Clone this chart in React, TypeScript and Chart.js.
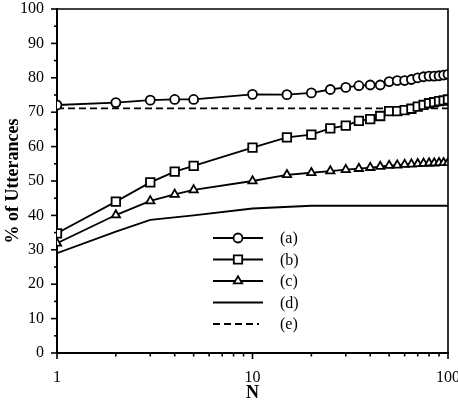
import { useEffect, useRef } from 'react';
import { Chart, registerables } from 'chart.js';

Chart.register(...registerables);

// N values sampled for the three marked series
const nValues = [1, 2, 3, 4, 5, 10, 15, 20, 25, 30, 35, 40, 45, 50, 55, 60, 65, 70, 75, 80, 85, 90, 95, 100];
const seriesA = [72.1, 72.8, 73.5, 73.7, 73.7, 75.2, 75.1, 75.6, 76.6, 77.2, 77.7, 77.9, 77.9, 78.9, 79.2, 79.2, 79.5, 80.0, 80.3, 80.5, 80.5, 80.6, 80.8, 81.0];
const seriesB = [34.8, 44.0, 49.6, 52.7, 54.4, 59.7, 62.7, 63.5, 65.3, 66.1, 67.5, 68.0, 68.9, 70.3, 70.3, 70.6, 71.0, 71.6, 72.1, 72.6, 72.9, 73.2, 73.4, 73.7];
const seriesC = [31.9, 40.1, 44.2, 46.1, 47.4, 50.0, 51.8, 52.4, 52.9, 53.3, 53.6, 53.9, 54.2, 54.5, 54.6, 54.8, 54.9, 55.0, 55.1, 55.2, 55.2, 55.3, 55.3, 55.3];
// Unmarked solid curve
const dN = [1, 2, 3, 5, 10, 20, 100];
const seriesD = [29.0, 35.3, 38.7, 40.0, 42.0, 42.8, 42.8];
// Dashed reference level
const eN = [1, 100];
const seriesE = [71.1, 71.1];

const legendLabels = ['(a)', '(b)', '(c)', '(d)', '(e)'];
const legendMarkers = ['circle', 'square', 'triangle', 'none', 'none'];
const xTickLabels = [1, 10, 100];
const yMajorStep = 10;
const yMinorStep = 5;

const SERIF = '"Liberation Serif", "Times New Roman", serif';
const LINE_W = 1.8;

function drawMarker(ctx: CanvasRenderingContext2D, kind: string, x: number, y: number) {
  ctx.save();
  ctx.fillStyle = '#fff';
  ctx.strokeStyle = '#000';
  ctx.lineWidth = LINE_W;
  ctx.beginPath();
  if (kind === 'circle') {
    ctx.arc(x, y, 4.5, 0, Math.PI * 2);
  } else if (kind === 'square') {
    ctx.rect(x - 4.2, y - 4.2, 8.4, 8.4);
  } else if (kind === 'triangle') {
    const r = 4.8;
    ctx.moveTo(x, y - r);
    ctx.lineTo(x + r * 0.866, y + r * 0.5);
    ctx.lineTo(x - r * 0.866, y + r * 0.5);
    ctx.closePath();
  } else {
    ctx.restore();
    return;
  }
  ctx.fill();
  ctx.stroke();
  ctx.restore();
}

// Frame, tick marks and the line-style key
const decorations = {
  id: 'decorations',
  afterDraw(chart: any) {
    const { ctx, chartArea } = chart;
    const xs = chart.scales.x;
    const ys = chart.scales.y;
    ctx.save();
    ctx.strokeStyle = '#000';

    // top and right frame
    ctx.lineWidth = 1.6;
    ctx.beginPath();
    ctx.moveTo(chartArea.left, chartArea.top);
    ctx.lineTo(chartArea.right, chartArea.top);
    ctx.lineTo(chartArea.right, chartArea.bottom);
    ctx.stroke();

    // y ticks (outward)
    ctx.lineWidth = 1.6;
    for (let v = 0; v <= 100; v += yMinorStep) {
      const py = ys.getPixelForValue(v);
      const len = v % yMajorStep === 0 ? 6 : 3;
      ctx.beginPath();
      ctx.moveTo(chartArea.left - len, py);
      ctx.lineTo(chartArea.left, py);
      ctx.stroke();
    }

    // x ticks (outward, log decades)
    for (let dec = 1; dec <= 100; dec *= 10) {
      for (let m = 1; m <= 9; m++) {
        const v = dec * m;
        if (v > 100) break;
        const px = xs.getPixelForValue(v);
        const len = m === 1 ? 6 : 3.5;
        ctx.beginPath();
        ctx.moveTo(px, chartArea.bottom);
        ctx.lineTo(px, chartArea.bottom + len);
        ctx.stroke();
      }
    }

    // key
    const x0 = 213;
    const x1 = 263;
    const y0 = 238;
    const dy = 21.5;
    ctx.font = `16px ${SERIF}`;
    ctx.fillStyle = '#000';
    ctx.textBaseline = 'middle';
    ctx.textAlign = 'left';
    legendLabels.forEach((label, i) => {
      const y = y0 + i * dy;
      ctx.save();
      ctx.lineWidth = LINE_W;
      if (i === 4) ctx.setLineDash([7, 4]);
      ctx.beginPath();
      ctx.moveTo(x0, y);
      ctx.lineTo(i === 4 ? x1 - 4 : x1, y);
      ctx.stroke();
      ctx.restore();
      drawMarker(ctx, legendMarkers[i], (x0 + x1) / 2, y);
      ctx.fillText(label, 280, y + 1);
    });
    ctx.restore();
  },
};

export default function App() {
  const canvasRef = useRef<HTMLCanvasElement | null>(null);

  useEffect(() => {
    document.body.style.margin = '0';
    const canvas = canvasRef.current;
    if (!canvas) return;

    const lineBase = {
      borderColor: '#000',
      borderWidth: LINE_W,
      pointBorderColor: '#000',
      pointBackgroundColor: '#fff',
      pointBorderWidth: LINE_W,
      tension: 0,
    };

    const chart = new Chart(canvas, {
      type: 'line',
      data: {
        datasets: [
          {
            ...lineBase,
            label: '(a)',
            data: nValues.map((n, i) => ({ x: n, y: seriesA[i] })),
            pointStyle: 'circle',
            pointRadius: 4.5,
          },
          {
            ...lineBase,
            label: '(b)',
            data: nValues.map((n, i) => ({ x: n, y: seriesB[i] })),
            pointStyle: 'rect',
            pointRadius: 6,
          },
          {
            ...lineBase,
            label: '(c)',
            data: nValues.map((n, i) => ({ x: n, y: seriesC[i] })),
            pointStyle: 'triangle',
            pointRadius: 4.8,
          },
          {
            ...lineBase,
            label: '(d)',
            data: dN.map((n, i) => ({ x: n, y: seriesD[i] })),
            pointRadius: 0,
          },
          {
            ...lineBase,
            label: '(e)',
            data: eN.map((n, i) => ({ x: n, y: seriesE[i] })),
            pointRadius: 0,
            borderDash: [7, 4],
          },
        ],
      },
      options: {
        responsive: false,
        animation: false,
        devicePixelRatio: 1,
        layout: { padding: { top: 9, right: 10, left: 0, bottom: 0 } },
        plugins: {
          legend: { display: false },
          tooltip: { enabled: false },
        },
        scales: {
          x: {
            type: 'logarithmic',
            min: 1,
            max: 100,
            grid: { display: false, drawTicks: false },
            border: { display: true, color: '#000', width: 2 },
            ticks: {
              color: '#000',
              font: { family: SERIF, size: 16 },
              padding: 15,
              autoSkip: false,
              maxRotation: 0,
              callback: (v: any) => (xTickLabels.includes(Number(v)) ? String(v) : ''),
            },
            title: {
              display: true,
              text: 'N',
              color: '#000',
              font: { family: SERIF, size: 18, weight: 'bold', lineHeight: 1 },
              padding: { top: 0, bottom: 0 },
            },
            afterFit: (scale: any) => {
              scale.height = 49;
              scale.paddingLeft = 0;
              scale.paddingRight = 0;
            },
          },
          y: {
            min: 0,
            max: 100,
            grid: { display: false, drawTicks: false },
            border: { display: true, color: '#000', width: 2 },
            ticks: {
              stepSize: yMajorStep,
              color: '#000',
              font: { family: SERIF, size: 16 },
              padding: 13,
            },
            title: {
              display: true,
              text: '% of Utterances',
              color: '#000',
              font: { family: SERIF, size: 18, weight: 'bold', lineHeight: 1 },
              padding: { top: 4, bottom: 0 },
            },
            afterFit: (scale: any) => {
              scale.width = 57;
              scale.paddingTop = 0;
              scale.paddingBottom = 0;
            },
          },
        },
      },
      plugins: [decorations],
    } as any);

    return () => chart.destroy();
  }, []);

  return (
    <div style={{ position: 'absolute', left: 0, top: 0, width: 458, height: 402 }}>
      <canvas ref={canvasRef} width={458} height={402} />
    </div>
  );
}
